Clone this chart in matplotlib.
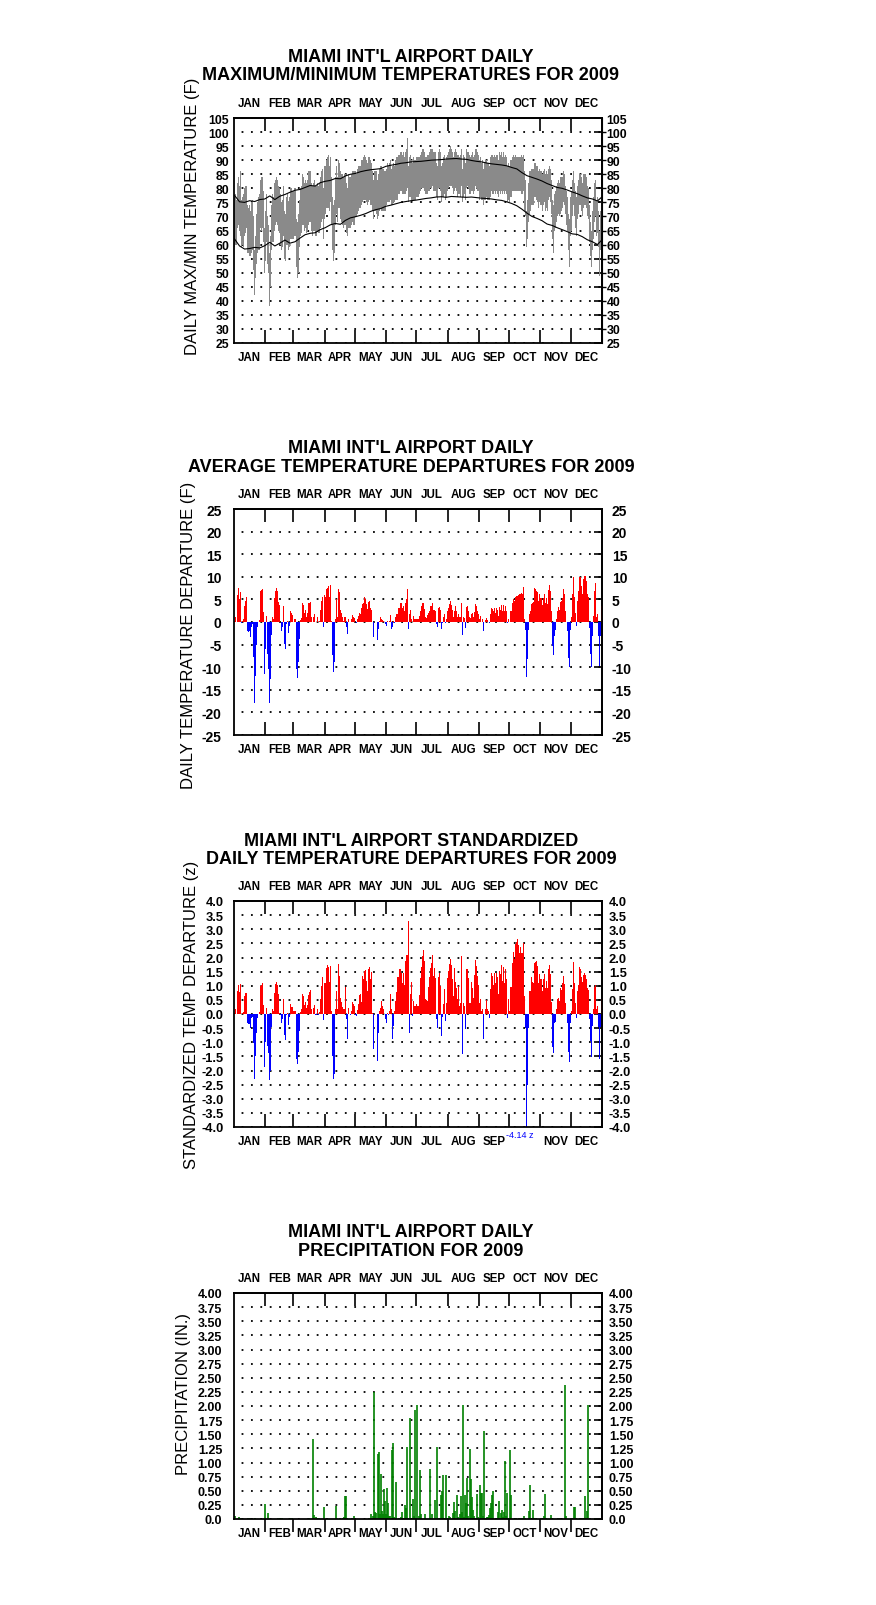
import numpy as np
import matplotlib
matplotlib.use("Agg")
import matplotlib.pyplot as plt

plt.rcParams["font.family"] = ["Liberation Sans", "DejaVu Sans"]
plt.rcParams["font.weight"] = "bold"

MONTHS = ["JAN", "FEB", "MAR", "APR", "MAY", "JUN", "JUL", "AUG", "SEP", "OCT", "NOV", "DEC"]
MONTH_DAYS = [31, 28, 31, 30, 31, 30, 31, 31, 30, 31, 30, 31]

# ---------------- daily max / min temperatures (F) ----------------
TMAX = [
    77, 78, 76, 82, 84, 81, 86, 76, 77, 78, 80, 81, 81, 74, 73, 74, 72, 75, 76, 70, 58, 63, 71, 75, 77, 78, 83, 84, 84, 79, 66,
    72, 78, 70, 67, 57, 63, 74, 78, 77, 82, 83, 84, 83, 81, 80, 78, 75, 76, 81, 72, 71, 77, 78, 75, 77, 80, 80, 79,
    79, 80, 69, 68, 71, 76, 80, 81, 85, 84, 82, 83, 82, 83, 86, 86, 86, 82, 81, 82, 83, 81, 81, 82, 81, 82, 84, 86, 87, 80, 88,
    88, 90, 91, 92, 88, 91, 84, 77, 74, 76, 84, 88, 84, 90, 89, 86, 85, 85, 84, 85, 85, 82, 80, 85, 84, 84, 85, 86, 86, 86,
    86, 85, 87, 88, 88, 88, 90, 90, 91, 92, 91, 90, 89, 91, 91, 90, 89, 86, 83, 86, 86, 86, 83, 85, 87, 88, 88, 87, 87, 86, 86,
    87, 89, 88, 89, 90, 87, 88, 89, 88, 90, 91, 91, 92, 92, 93, 93, 92, 93, 91, 93, 94, 98, 88, 91, 92, 90, 89, 91, 90, 90,
    91, 91, 91, 92, 93, 94, 94, 93, 91, 91, 92, 92, 93, 94, 94, 94, 93, 93, 93, 89, 88, 93, 94, 93, 88, 89, 91, 92, 90, 91, 92,
    93, 94, 95, 94, 93, 91, 93, 94, 93, 92, 92, 91, 92, 94, 87, 92, 91, 89, 94, 93, 93, 92, 91, 92, 93, 91, 92, 94, 94, 93, 92,
    90, 91, 89, 90, 87, 89, 90, 90, 89, 89, 88, 91, 92, 92, 91, 92, 91, 92, 92, 90, 93, 92, 93, 91, 93, 91, 92, 91, 88, 89,
    88, 90, 90, 91, 92, 91, 92, 91, 91, 91, 91, 91, 92, 91, 92, 86, 83, 72, 76, 82, 86, 86, 87, 87, 87, 89, 89, 88, 88, 86, 87,
    86, 85, 86, 87, 85, 86, 85, 87, 88, 87, 83, 76, 74, 78, 79, 81, 82, 83, 82, 84, 84, 84, 86, 85, 81, 79, 77, 71, 69, 77,
    79, 83, 86, 82, 79, 77, 81, 83, 85, 85, 84, 82, 85, 85, 85, 84, 81, 80, 74, 68, 65, 72, 77, 82, 83, 76, 77, 72, 65, 72, 79,
]
TMIN = [
    59, 60, 60, 66, 67, 65, 63, 59, 60, 59, 63, 64, 66, 57, 57, 56, 56, 57, 58, 51, 42, 48, 53, 57, 58, 58, 66, 65, 66, 61, 50,
    54, 61, 53, 50, 38, 45, 58, 61, 61, 65, 67, 68, 67, 65, 64, 60, 58, 59, 63, 55, 54, 60, 60, 58, 59, 62, 62, 62,
    62, 63, 52, 48, 50, 59, 63, 64, 67, 67, 65, 66, 64, 65, 67, 68, 68, 65, 63, 65, 65, 63, 63, 65, 64, 64, 66, 68, 69, 62, 69,
    71, 73, 73, 73, 72, 75, 67, 58, 54, 57, 67, 71, 68, 73, 73, 69, 68, 67, 66, 67, 67, 64, 63, 66, 66, 66, 67, 68, 67, 67,
    70, 70, 71, 72, 73, 73, 74, 75, 76, 76, 76, 75, 74, 75, 76, 74, 74, 72, 69, 72, 72, 71, 69, 70, 72, 73, 72, 72, 72, 72, 72,
    74, 75, 75, 75, 76, 74, 74, 75, 75, 76, 76, 76, 78, 78, 79, 79, 78, 78, 78, 78, 79, 80, 75, 77, 77, 76, 75, 76, 76, 76,
    77, 77, 78, 79, 80, 80, 80, 79, 78, 78, 78, 79, 79, 80, 80, 81, 79, 79, 79, 77, 76, 80, 80, 79, 75, 77, 77, 78, 76, 77, 79,
    80, 81, 81, 81, 80, 78, 79, 80, 79, 77, 78, 78, 77, 81, 75, 77, 78, 76, 80, 81, 80, 78, 78, 79, 79, 78, 79, 81, 80, 79, 79,
    76, 77, 76, 76, 74, 76, 76, 77, 76, 76, 76, 77, 79, 78, 78, 79, 78, 79, 78, 77, 79, 78, 79, 78, 79, 78, 79, 78, 75, 76,
    75, 77, 77, 79, 79, 79, 79, 79, 79, 79, 79, 79, 78, 78, 79, 72, 70, 59, 62, 68, 71, 72, 74, 74, 74, 77, 77, 76, 75, 73, 75,
    74, 72, 74, 75, 72, 73, 72, 76, 77, 75, 71, 62, 57, 65, 66, 68, 70, 71, 70, 71, 72, 73, 75, 74, 71, 67, 65, 58, 52, 63,
    65, 70, 74, 70, 66, 63, 69, 71, 74, 74, 72, 70, 73, 74, 74, 73, 70, 69, 61, 56, 52, 58, 62, 68, 70, 63, 64, 59, 49, 58, 64,
]

# normal max / min (read every 5 days)
NORM_DAYS = [1, 6, 11, 16, 21, 26, 31, 36, 41, 46, 51, 56, 61, 66, 71, 76, 81, 86, 91, 96, 101, 106, 111, 116,
             121, 126, 131, 136, 141, 146, 151, 156, 161, 166, 171, 176, 181, 186, 191, 196, 201, 206, 211, 216,
             221, 226, 231, 236, 241, 246, 251, 256, 261, 266, 271, 276, 281, 286, 291, 296, 301, 306, 311, 316,
             321, 326, 331, 336, 341, 346, 351, 356, 361, 365]
NORM_MAX = [77.5, 75.2, 75.0, 75.6, 75.3, 76.0, 76.2, 77.3, 76.0, 77.2, 77.8, 78.6, 79.3, 79.6, 80.3, 81.0, 80.8,
            82.0, 82.5, 82.8, 83.5, 83.4, 84.4, 85.0, 85.3, 85.9, 86.3, 86.6, 86.8, 87.0, 87.8, 88.2, 88.5, 88.9,
            89.1, 89.4, 89.5, 89.6, 89.8, 90.0, 90.1, 90.2, 90.4, 90.5, 90.6, 90.4, 90.3, 89.9, 89.6, 89.4, 89.0,
            88.7, 88.5, 88.3, 88.0, 87.4, 86.9, 85.6, 84.5, 83.9, 83.3, 82.6, 81.7, 81.0, 80.3, 80.0, 79.4, 78.7,
            78.1, 77.3, 76.6, 76.2, 75.5, 76.8]
NORM_MIN = [62.0, 59.5, 58.4, 58.6, 59.0, 58.8, 59.6, 60.8, 59.5, 60.5, 61.6, 60.5, 61.0, 62.3, 63.5, 64.0, 64.2,
            65.3, 66.0, 67.0, 67.5, 67.2, 68.6, 69.5, 69.9, 70.4, 71.0, 71.8, 72.4, 72.8, 73.6, 74.0, 74.5, 75.0,
            75.3, 75.6, 75.8, 76.1, 76.4, 76.6, 76.9, 77.0, 76.8, 77.1, 77.0, 76.9, 76.8, 76.9, 76.7, 76.5, 76.4,
            76.2, 75.9, 75.7, 75.2, 74.6, 73.8, 72.6, 71.2, 70.0, 69.3, 68.5, 67.3, 66.8, 66.0, 65.3, 64.6, 63.8,
            63.6, 62.8, 61.7, 61.0, 60.0, 61.5]

# ---------------- daily average temperature departure (F) ----------------
DEP = [
    0.2,
    1.0, 0.0, 6.0, 7.5, 5.0, 6.6, -0.2, 0.3, 0.7, 3.6,
    4.7, 5.5, -2.0, -2.3, -2.1, -3.4, -1.2, -0.5, -7.8, -18.0,
    -12.0, -5.0, -1.0, 0.0, 0.4, 6.8, 7.1, 7.3, 2.3, -11.5,
    -6.0, 1.3, -7.0, -10.5, -17.9, -12.6, -2.8, 1.0, 0.7, 5.3,
    6.8, 7.5, 6.8, 4.5, 3.8, -0.1, -2.1, -1.2, 3.6, -4.9,
    -6.0, -0.4, 0.3, -2.4, -0.8, 2.4, 1.9, 1.5, 0.0, 0.7,
    -10.5, -12.4, -8.8, -3.8, 0.4, 0.8, 4.2, 3.8, 2.0, 2.6,
    1.2, 1.9, 4.2, 4.3, 4.4, 1.0, 0.0, 1.2, 1.8, -0.1,
    -0.1, 1.0, -0.1, 0.3, 2.6, 4.6, 5.5, -1.0, 6.0, 5.5,
    7.3, 7.5, 7.9, 5.5, 8.2, 0.3, -7.4, -11.0, -8.9, 0.7,
    5.0, 1.0, 7.3, 6.6, 2.6, 1.9, 1.0, 0.3, 1.0, 1.2,
    -1.2, -2.7, 0.7, 0.0, -0.1, 0.7, 1.5, 1.0, 0.9, -0.1,
    -0.3, 0.7, 1.3, 2.0, 1.8, 3.2, 4.0, 4.3, 5.5, 5.0,
    4.0, 2.9, 4.5, 4.6, 3.2, 2.6, 0.0, -3.4, 0.0, 0.0,
    0.0, -3.9, -1.5, 0.3, 1.0, 0.7, 0.4, 0.2, 0.0, -0.4,
    -0.8, 0.2, -0.1, 0.3, 1.5, -1.5, -1.0, 0.2, -0.3, 1.0,
    1.8, 1.8, 3.2, 3.1, 4.2, 4.1, 3.2, 3.6, 2.4, 4.1,
    5.0, 7.3, -1.5, 1.8, 2.6, 0.7, -0.1, 1.4, 0.7, 0.7,
    0.7, 0.7, 1.3, 2.4, 3.6, 4.3, 4.1, 2.8, 1.0, 0.9,
    1.5, 2.1, 2.5, 3.5, 3.5, 4.1, 2.6, 2.6, 2.5, -0.4,
    -1.0, 3.1, 3.4, 2.6, -1.5, -0.3, 1.0, 1.7, -0.2, 0.7,
    2.4, 3.0, 4.0, 4.6, 3.8, 2.6, 1.0, 2.5, 3.5, 2.4,
    1.0, 1.8, 1.0, 1.0, 4.2, -2.8, 1.0, 0.8, -1.3, 3.4,
    3.5, 2.5, 1.0, 0.9, 1.8, 2.1, 1.0, 2.3, 4.0, 3.5,
    2.4, 1.8, 0.7, 1.3, 0.0, 0.7, -2.1, 0.0, 0.4, 0.9,
    0.4, 0.0, -0.3, 1.8, 3.2, 2.9, 2.4, 3.1, 2.1, 3.0,
    2.6, 1.4, 3.4, 2.6, 3.7, 2.5, 3.8, 2.5, 3.6, 2.4,
    -0.3, 0.7, 0.0, 2.4, 2.5, 4.2, 5.1, 4.7, 5.5, 5.7,
    5.8, 5.9, 6.2, 6.3, 6.5, 6.3, 7.7, 0.7, -1.8, -12.2,
    -8.2, -1.8, 1.8, 2.5, 4.0, 4.3, 4.4, 7.5, 7.4, 6.8,
    6.6, 4.7, 6.3, 5.2, 3.7, 5.2, 6.3, 4.1, 5.2, 4.0,
    7.1, 8.2, 6.9, 2.5, -5.2, -7.2, -3.0, -1.8, 0.7, 2.5,
    3.4, 2.6, 4.4, 4.7, 5.3, 7.2, 6.2, 2.5, 0.0, -1.9,
    -8.0, -9.9, -1.8, 1.0, 6.3, 9.9, 5.5, 2.0, -0.8, 4.7,
    6.8, 9.9, 9.9, 8.0, 6.3, 9.5, 10.1, 10.1, 9.1, 6.2,
    5.5, -1.3, -7.1, -10.0, -3.0, 1.4, 6.9, 8.6, 1.0, 1.8,
    -3.0, -9.7, -3.0, 3.6,
]

# ---------------- standardized daily temperature departure (z) ----------------
ZDEP = [
    0.03,
    0.17, 0.0, 0.81, 1.03, 0.79, 1.05, 0.0, 0.05, 0.07, 0.64,
    0.73, 0.73, -0.31, -0.37, -0.37, -0.48, -0.13, -0.10, -1.04, -2.29,
    -1.49, -0.66, -0.14, 0.0, 0.07, 0.99, 1.04, 1.10, 0.33, -1.86,
    -1.00, 0.21, -1.13, -1.37, -2.32, -2.00, -0.45, 0.17, 0.10, 0.75,
    1.06, 1.13, 1.03, 0.72, 0.05, -0.05, -0.31, -0.17, 0.54, -0.76,
    -0.92, -0.05, 0.05, -0.40, -0.10, 0.34, 0.25, 0.25, 0.10, 0.10,
    -1.58, -1.76, -1.33, -0.60, 0.07, 0.17, 0.72, 0.64, 0.32, 0.42,
    0.21, 0.31, 0.67, 0.78, 0.85, 0.17, 0.0, 0.22, 0.32, -0.02,
    -0.02, 0.17, -0.02, 0.07, 0.52, 0.99, 1.31, -0.21, 1.11, 1.09,
    1.64, 1.72, 1.68, 1.13, 1.70, 0.10, -1.49, -2.31, -2.11, 0.17,
    0.80, 0.17, 1.76, 1.35, 0.57, 0.42, 0.25, 0.17, 0.19, 0.97,
    -0.17, -0.90, 0.21, 0.0, -0.02, 0.10, 0.42, 0.34, 0.28, -0.05,
    -0.07, 0.14, 0.34, 0.66, 0.70, 0.42, 1.35, 1.25, 1.52, 1.56,
    1.17, 0.80, 1.60, 1.68, 1.23, 1.49, 0.05, -1.25, 0.0, 0.0,
    0.0, -1.65, -0.66, 0.10, 0.21, 0.47, 0.28, 0.17, 0.0, -0.19,
    -0.31, 0.05, -0.05, 0.10, 0.70, 0.17, -0.87, -0.42, 0.10, 0.45,
    0.78, 1.30, 1.32, 1.58, 1.58, 1.44, 1.11, 1.44, 1.01, 1.86,
    2.08, 2.09, 3.29, -0.68, 0.70, 1.13, -0.07, 0.46, 0.28, 0.28,
    0.34, 0.28, 0.66, 1.29, 1.66, 2.05, 2.27, 1.88, 0.54, 0.50,
    0.45, 0.97, 1.31, 1.64, 1.79, 2.08, 1.35, 1.64, 1.29, -0.19,
    -0.48, 1.30, 1.46, 0.99, -0.78, -0.10, 0.35, 0.87, -0.25, 0.40,
    1.29, 1.52, 1.76, 1.94, 1.72, 1.23, 0.64, 1.64, 1.13, 0.93,
    0.52, 0.99, 0.28, 0.40, 2.05, -1.43, 0.40, 0.28, -0.52, 1.58,
    1.60, 1.29, 0.38, 0.38, 1.13, 0.93, 0.58, 1.37, 1.91, 1.70,
    1.35, 1.01, 0.40, 0.52, 0.10, 0.17, -0.90, 0.0, 0.17, 0.50,
    0.17, 0.10, -0.13, 0.90, 1.44, 1.35, 1.01, 1.46, 1.11, 1.46,
    1.32, 0.70, 1.52, 1.40, 1.72, 1.17, 1.66, 1.11, 1.60, 1.23,
    -0.13, 0.52, 0.10, 0.97, 0.97, 1.82, 2.19, 1.94, 2.47, 2.56,
    2.67, 2.43, 2.15, 2.38, 2.15, 2.15, 2.52, 0.64, -0.48, -4.14,
    -2.53, -0.48, 0.81, 0.81, 1.31, 1.13, 1.09, 1.82, 1.84, 1.88,
    1.70, 1.11, 1.40, 1.23, 0.81, 1.23, 1.40, 0.93, 1.17, 0.93,
    1.60, 1.72, 1.40, 0.42, -1.16, -1.37, -0.31, -0.28, 0.17, 0.54,
    0.58, 0.46, 0.93, 0.85, 1.09, 1.35, 1.05, 0.40, 0.0, -0.31,
    -1.33, -1.69, -0.31, 0.10, 0.87, 1.84, 1.09, 0.40, -0.13, 0.81,
    1.01, 1.65, 1.60, 1.32, 1.13, 1.37, 1.44, 1.39, 1.23, 0.93,
    0.85, -0.19, -0.94, -1.51, -0.42, 0.17, 0.97, 1.04, 0.17, 0.28,
    -0.45, -1.60, -0.45, 0.54,
]

# ---------------- daily precipitation (in.), days with rain ----------------
PRCP_DAY = [1, 5, 7, 14, 16, 21, 31, 34, 44, 46, 48, 56, 58, 75, 79, 80, 82, 83, 84, 85, 90, 102, 106, 109,
            110, 111, 112, 113, 118, 120, 134, 136, 138, 139, 140, 141, 143, 144, 145, 146, 147, 148, 149, 150,
            151, 152, 153, 154, 155, 157, 158, 159, 161, 164, 166, 167, 168, 170, 171, 172, 173, 175, 177, 178,
            179, 180, 181, 182, 184, 185, 186, 190, 195, 197, 200, 202, 203, 206, 207, 208, 209, 211, 213, 214,
            215, 218, 219, 220, 222, 223, 224, 225, 226, 227, 228, 229, 230, 231, 232, 233, 234, 235, 236, 237,
            238, 239, 240, 242, 243, 244, 245, 246, 247, 248, 249, 251, 252, 253, 254, 255, 256, 257, 261, 262,
            263, 264, 265, 266, 267, 268, 269, 270, 271, 273, 274, 275, 279, 280, 283, 285, 287, 288, 289, 293,
            294, 295, 297, 298, 300, 305, 308, 309, 310, 315, 316, 322, 324, 329, 330, 336, 337, 338, 339, 340,
            344, 345, 347, 348, 349, 350, 351, 352, 353, 359]
PRCP_IN = [0.05, 0.03, 0.02, 0.02, 0.02, 0.02, 0.27, 0.11, 0.02, 0.02, 0.02, 0.02, 0.02, 0.02, 1.42, 0.07, 0.04,
           0.02, 0.02, 0.02, 0.22, 0.23, 0.02, 0.02, 0.03, 0.41, 0.41, 0.02, 0.02, 0.05, 0.02, 0.09, 0.05, 2.25,
           0.13, 0.11, 1.15, 1.18, 0.08, 0.80, 0.15, 0.08, 0.53, 0.32, 0.08, 0.55, 0.28, 0.06, 0.05, 1.22, 1.34,
           0.03, 0.66, 0.02, 0.03, 0.13, 0.02, 0.25, 0.20, 1.28, 0.02, 1.78, 0.02, 0.35, 0.05, 1.93, 0.02, 2.02,
           0.05, 0.87, 0.08, 0.08, 0.88, 0.08, 0.33, 1.28, 0.02, 0.42, 0.50, 0.78, 0.02, 0.77, 0.02, 0.05, 0.04,
           0.10, 0.30, 0.15, 0.43, 0.03, 0.02, 0.08, 0.41, 0.12, 2.02, 0.03, 0.43, 0.28, 0.72, 0.05, 0.02, 1.24,
           0.71, 0.39, 0.16, 0.05, 0.02, 0.45, 0.03, 0.60, 0.46, 0.46, 0.06, 1.56, 0.02, 0.04, 0.03, 0.07, 0.20,
           0.29, 0.43, 0.50, 0.02, 0.13, 0.32, 0.02, 0.10, 0.16, 0.04, 0.12, 1.03, 0.05, 0.46, 0.02, 1.22, 0.43,
           0.02, 0.02, 0.02, 0.02, 0.02, 0.06, 0.02, 0.15, 0.60, 0.02, 0.16, 0.02, 0.02, 0.02, 0.05, 0.44, 0.02,
           0.07, 0.02, 0.02, 0.02, 2.37, 0.05, 0.02, 0.02, 0.21, 0.21, 0.02, 0.02, 0.02, 0.02, 0.02, 0.41, 0.02,
           0.15, 2.02, 0.02, 0.02]

# ---------------- layout ----------------
W, H = 876, 1606
fig = plt.figure(figsize=(W / 100, H / 100), dpi=100)

edges = np.concatenate([[0], np.cumsum(MONTH_DAYS)]) + 0.5
mids = (edges[:-1] + edges[1:]) / 2


def make_axes(top, bottom, left=234, right=602):
    return fig.add_axes([left / W, 1 - bottom / H, (right - left) / W, (bottom - top) / H])


def style(ax, ylo, yhi, step, fmt, lsize, lpad, rpad, rdash=False, bottom_labels=None, bottom_out=False):
    ax.set_xlim(0.5, 365.5)
    ax.set_ylim(ylo, yhi)
    levels = np.arange(ylo, yhi + step / 2, step)
    labels = [fmt(v) for v in levels]
    for s in ax.spines.values():
        s.set_linewidth(1.3)
    ax.set_axisbelow(True)
    ax.set_yticks(levels)
    ax.set_yticklabels(labels, fontsize=lsize, fontweight="bold")
    ax.tick_params(axis="y", length=0, pad=lpad)
    ax.yaxis.grid(True, color="black", lw=1.3, ls=(1, (1, 4.2)))
    # bottom: month boundary ticks and month names
    ax.set_xticks(edges[1:-1])
    ax.set_xticklabels([])
    ax.tick_params(axis="x", which="major", direction="out" if bottom_out else "in",
                   length=9.5, width=1.2, top=False, bottom=True)
    ax.set_xticks(mids, minor=True)
    ax.set_xticklabels(bottom_labels if bottom_labels is not None else MONTHS,
                       minor=True, fontsize=8.3, fontweight="bold")
    ax.tick_params(axis="x", which="minor", length=0, pad=6.0)
    # top
    top = ax.secondary_xaxis("top")
    top.set_xticks(mids)
    top.set_xticklabels(MONTHS, fontsize=8.3, fontweight="bold")
    top.tick_params(axis="x", which="major", length=0, pad=6.5)
    top.set_xticks(edges[1:-1], minor=True)
    top.tick_params(axis="x", which="minor", direction="in", length=9.5, width=1.2)
    top.spines["top"].set_linewidth(1.3)
    # right
    r = ax.secondary_yaxis("right")
    r.set_yticks(levels)
    r.set_yticklabels(labels, fontsize=lsize, fontweight="bold")
    r.tick_params(axis="y", direction="in", length=5.8, width=1.2, pad=rpad)
    r.spines["right"].set_linewidth(1.3)
    if rdash:
        r2 = ax.secondary_yaxis("right")
        r2.set_yticks(levels[1:-1])
        r2.set_yticklabels([])
        r2.tick_params(axis="y", direction="out", length=3.0, width=1.0)
    return levels


def title(ycenter, text):
    fig.text(411 / W, 1 - ycenter / H, text, ha="center", va="center", fontsize=13,
             fontweight="bold", linespacing=1.12)


def ylabel(x, ycenter, text):
    fig.text(x / W, 1 - ycenter / H, text, rotation=90, ha="center", va="center",
             fontsize=12, fontweight="normal")


# ---- panel 1: max/min ----
ax1 = make_axes(119, 344)
style(ax1, 25, 105, 5, lambda v: f"{v:.0f}", 8.8, 3.5, 3.3, rdash=True)
tmax = np.array(TMAX, dtype=float)
tmin = np.array(TMIN, dtype=float)
d1 = np.arange(1, len(tmax) + 1)
ax1.bar(d1, tmax - tmin, bottom=tmin, width=1.0, color="#8a8a8a", linewidth=0, zorder=2)
ax1.plot(NORM_DAYS, NORM_MAX, color="black", lw=0.8, zorder=3)
ax1.plot(NORM_DAYS, NORM_MIN, color="black", lw=0.8, zorder=3)
title(66.5, "MIAMI INT'L AIRPORT DAILY\nMAXIMUM/MINIMUM TEMPERATURES FOR 2009")
ylabel(192, 216, "DAILY MAX/MIN TEMPERATURE (F)")

# ---- panel 2: departures ----
ax2 = make_axes(510, 736)
style(ax2, -25, 25, 5, lambda v: f"{v:.0f}", 10, 9.0, 7.0)
dep = np.array(DEP)
d2 = np.arange(1, len(dep) + 1)
ax2.bar(d2, dep, width=1.0, color=np.where(dep >= 0, "#ff0000", "#0000ff"), linewidth=0, zorder=2)
title(458, "MIAMI INT'L AIRPORT DAILY\nAVERAGE TEMPERATURE DEPARTURES FOR 2009")
ylabel(188, 635, "DAILY TEMPERATURE DEPARTURE (F)")

# ---- panel 3: standardized ----
ax3 = make_axes(902, 1128)
p3_bottom = [m if m != "OCT" else "" for m in MONTHS]
style(ax3, -4.0, 4.0, 0.5, lambda v: f"{v:.1f}" if abs(v) > 1e-9 else "0.0", 9.3, 7.5, 5.0,
      bottom_labels=p3_bottom)
z = np.array(ZDEP)
d3 = np.arange(1, len(z) + 1)
ax3.bar(d3, z, width=1.0, color=np.where(z >= 0, "#ff0000", "#0000ff"), linewidth=0, zorder=2)
imin = int(np.argmin(z))
ax3.annotate(f"{z[imin]:.2f} z", xy=(d3[imin], -4.0), xytext=(5, -2.5), textcoords="offset points",
             ha="right", va="top", color="#0000ff", fontsize=6.5, fontweight="normal",
             annotation_clip=False)
title(850.5, "MIAMI INT'L AIRPORT STANDARDIZED\nDAILY TEMPERATURE DEPARTURES FOR 2009")
ylabel(191.7, 1014.5, "STANDARDIZED TEMP DEPARTURE (z)")

# ---- panel 4: precipitation ----
ax4 = make_axes(1294, 1520)
style(ax4, 0.0, 4.0, 0.25, lambda v: "0.0" if v == 0 else f"{v:.2f}", 9.0, 8.5, 5.0, bottom_out=True)
ax4.vlines(PRCP_DAY, 0, PRCP_IN, color="#008000", lw=1.2, zorder=2)
title(1242, "MIAMI INT'L AIRPORT DAILY\nPRECIPITATION FOR 2009")
ylabel(183.3, 1394, "PRECIPITATION (IN.)")

fig.savefig("out.png", dpi=100)
